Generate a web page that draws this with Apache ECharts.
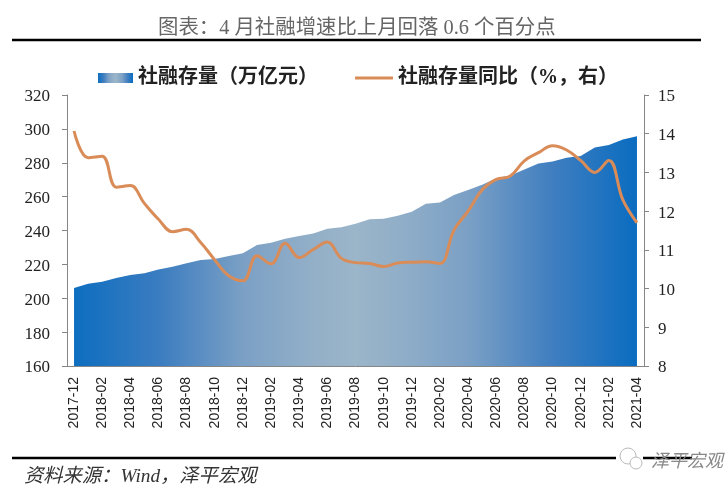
<!DOCTYPE html>
<html>
<head>
<meta charset="utf-8">
<style>
  html, body { margin: 0; padding: 0; background: #fff; }
  #chart { width: 726px; height: 489px; }
</style>
<script src="https://cdn.jsdelivr.net/npm/echarts@6/dist/echarts.min.js"></script>
</head>
<body>
<div id="chart"></div>
<script>
const months = [
  '2017-12','2018-01','2018-02','2018-03','2018-04','2018-05','2018-06','2018-07','2018-08','2018-09','2018-10',
  '2018-11','2018-12','2019-01','2019-02','2019-03','2019-04','2019-05','2019-06','2019-07','2019-08','2019-09',
  '2019-10','2019-11','2019-12','2020-01','2020-02','2020-03','2020-04','2020-05','2020-06','2020-07','2020-08',
  '2020-09','2020-10','2020-11','2020-12','2021-01','2021-02','2021-03','2021-04'
];
const stock = [
  206, 208.5, 209.8, 212, 213.7, 214.7, 217, 218.6, 220.6, 222.6, 223.2,
  225, 226.5, 231.4, 232.8, 235.1, 236.7, 238.3, 241, 241.9, 244, 246.6,
  247, 248.7, 251, 255.8, 256.6, 261, 263.9, 267, 270.8, 272.4, 276,
  279.6, 280.8, 283, 284, 289, 290.5, 293.8, 295.6
];
const growth = [
  14.07, 13.38, 13.42, 12.62, 12.66, 12.2, 11.79, 11.47, 11.53, 11.19, 10.74,
  10.33, 10.2, 10.85, 10.64, 11.17, 10.8, 11.01, 11.2, 10.78, 10.67, 10.65,
  10.57, 10.66, 10.68, 10.69, 10.65, 11.51, 12.0, 12.55, 12.82, 12.91, 13.3,
  13.51, 13.69, 13.58, 13.31, 13.0, 13.31, 12.29, 11.7
];
const stockName = '社融存量（万亿元）';
const growthName = '社融存量同比（%，右）';

const SERIF = '"Liberation Serif", "Noto Sans CJK SC", serif';
const AXIS_GREY = '#868686';
const LINE_COLOR = '#d98c58';

const areaFill = {
  type: 'linear', x: 0, y: 0, x2: 1, y2: 0,
  colorStops: [
    { offset: 0, color: '#0d6ec0' },
    { offset: 0.15, color: '#3a7cc0' },
    { offset: 0.3, color: '#7ba0c5' },
    { offset: 0.42, color: '#92afc8' },
    { offset: 0.5, color: '#9bb5c9' },
    { offset: 0.58, color: '#90aec8' },
    { offset: 0.7, color: '#7ba0c5' },
    { offset: 0.85, color: '#3f7ec0' },
    { offset: 1, color: '#0a6cc0' }
  ]
};

const legendText = { fontSize: 20, fontFamily: SERIF, color: '#222', fontWeight: 'bold' };
// rich label only to nudge the digits down a little
const valueRich = { v: { fontSize: 17, color: '#222', fontFamily: SERIF, padding: [4, 0, 0, 0] } };

const chart = echarts.init(document.getElementById('chart'));

chart.setOption({
  animation: false,
  backgroundColor: '#fff',
  textStyle: { fontFamily: SERIF },
  legend: [
    {
      left: 98, top: 68, padding: 0, itemWidth: 35, itemHeight: 10,
      textStyle: legendText,
      data: [{ name: stockName, icon: 'rect' }]
    },
    {
      left: 355, top: 68, padding: 0, itemWidth: 38, itemHeight: 3,
      textStyle: legendText,
      data: [{ name: growthName, icon: 'rect' }]
    }
  ],
  grid: { left: 67, right: 82, top: 95, bottom: 123 },
  xAxis: {
    type: 'category',
    data: months,
    boundaryGap: true,
    axisLine: { lineStyle: { color: AXIS_GREY } },
    axisTick: { interval: 1, length: 5, lineStyle: { color: AXIS_GREY } },
    axisLabel: {
      interval: 1,
      rotate: 90,
      margin: 11,
      fontFamily: '"Liberation Sans", sans-serif',
      fontSize: 14,
      color: '#222'
    }
  },
  yAxis: [
    {
      type: 'value',
      min: 160,
      max: 320,
      interval: 20,
      splitLine: { show: false },
      axisLine: { show: true, lineStyle: { color: AXIS_GREY } },
      axisTick: { show: true, length: 5, lineStyle: { color: AXIS_GREY } },
      axisLabel: { margin: 17, formatter: '{v|{value}}', rich: valueRich }
    },
    {
      type: 'value',
      min: 8,
      max: 15,
      interval: 1,
      position: 'right',
      splitLine: { show: false },
      axisLine: { show: true, lineStyle: { color: AXIS_GREY } },
      axisTick: { show: true, length: 5, lineStyle: { color: AXIS_GREY } },
      axisLabel: { margin: 14, formatter: '{v|{value}}', rich: valueRich }
    }
  ],
  series: [
    {
      name: stockName,
      type: 'line',
      data: stock,
      yAxisIndex: 0,
      symbol: 'none',
      lineStyle: { width: 0 },
      itemStyle: { color: areaFill },
      areaStyle: { color: areaFill, opacity: 1 }
    },
    {
      name: growthName,
      type: 'line',
      data: growth,
      yAxisIndex: 1,
      symbol: 'none',
      smooth: 0.4,
      lineStyle: { width: 3, color: LINE_COLOR },
      itemStyle: { color: LINE_COLOR }
    }
  ],
  graphic: [
    { type: 'text', left: 158, top: 18, style: {
      text: '图表：4 月社融增速比上月回落 0.6 个百分点',
      font: '20.4px ' + SERIF, fill: '#666' } },
    { type: 'line', shape: { x1: 12, y1: 40, x2: 701, y2: 40 }, style: { stroke: '#000', lineWidth: 2.5 } },
    { type: 'line', shape: { x1: 12, y1: 458, x2: 692, y2: 458 }, style: { stroke: '#000', lineWidth: 2.5 } },
    { type: 'text', left: 24, top: 467, style: {
      text: '资料来源：Wind，泽平宏观',
      font: 'italic 19.3px ' + SERIF, fill: '#333' } },
    // watermark sits on top of the bottom rule
    { type: 'rect', shape: { x: 616, y: 450, width: 27, height: 18 }, style: { fill: '#fff' } },
    { type: 'circle', shape: { cx: 628, cy: 456, r: 8 }, style: { fill: 'none', stroke: '#bbb', lineWidth: 1 } },
    { type: 'circle', shape: { cx: 636, cy: 463, r: 6 }, style: { fill: '#fff', stroke: '#bbb', lineWidth: 1 } },
    { type: 'text', left: 651, top: 453, style: {
      text: '泽平宏观',
      font: 'italic 18px ' + SERIF, fill: '#888' } }
  ]
});
</script>
</body>
</html>
